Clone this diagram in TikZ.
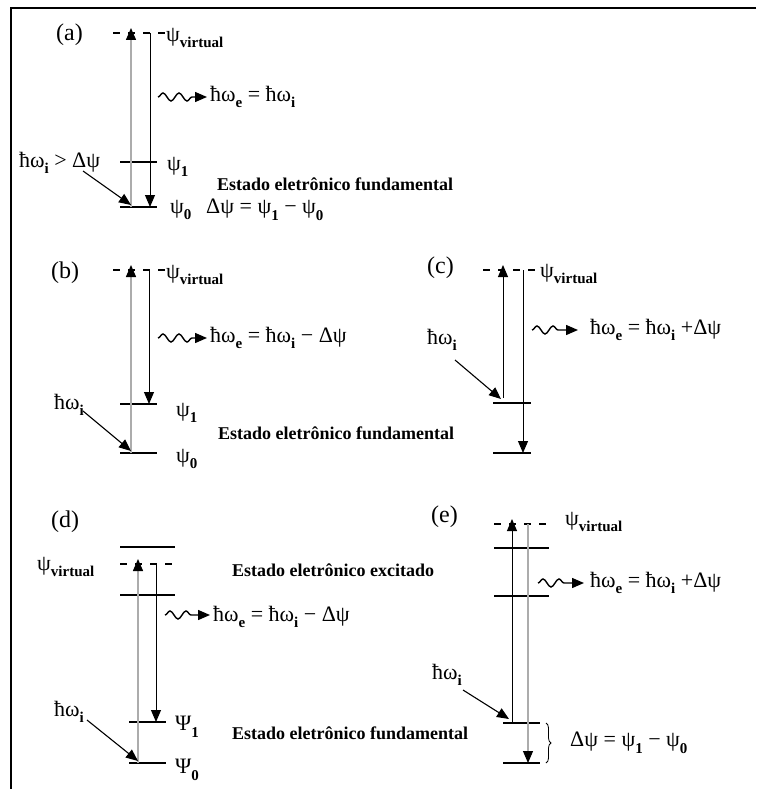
\documentclass[tikz,border=0pt]{standalone}
\usepackage{fontspec}
\setmainfont{Liberation Serif}
\usetikzlibrary{arrows.meta,decorations.pathmorphing,decorations.pathreplacing}
% bold lowered index used for state and photon labels
\newcommand{\lo}[1]{\raisebox{-0.3em}{\fontsize{15}{16}\selectfont\bfseries #1}}
\begin{document}
\begin{tikzpicture}[x=1pt,y=-1pt,
  txt/.style={anchor=west,inner sep=0pt,font=\fontsize{22}{24}\selectfont},
  tag/.style={anchor=west,inner sep=0pt,font=\fontsize{24}{26}\selectfont},
  lbl/.style={anchor=west,inner sep=0pt,font=\fontsize{18}{21}\selectfont\bfseries},
  level/.style={line width=2pt},
  vlevel/.style={line width=1.8pt,dash pattern=on 7pt off 8pt},
  tiphead/.style={-{Triangle[length=12pt,width=10pt,color=black]}},
  uparrow/.style={tiphead,draw=gray!65,line width=1.4pt},
  downarrow/.style={tiphead,line width=1pt},
  incarrow/.style={tiphead,line width=1.1pt},
  wavearrow/.style={tiphead,line width=1.4pt,decorate,
    decoration={snake,segment length=16pt,amplitude=4pt,post length=14pt}}
]
\useasboundingbox (0,0) rectangle (756,789);

% frame
\draw[line width=1.6pt] (756,8) -- (11,8) -- (11,789);

%---------------- (a) ----------------
\node[tag] (la) at (56,35) {(a)};
\draw[vlevel] (113,33) -- (167,33);
\coordinate (a0l) at (120,207); \coordinate (a0r) at (157,207);
\coordinate (a1l) at (120,162); \coordinate (a1r) at (157,162);
\draw[level] (a0l) -- (a0r);
\draw[level] (a1l) -- (a1r);
\coordinate (aub) at (131,207); \coordinate (aut) at (131,28);
\coordinate (adt) at (150,33);  \coordinate (adb) at (150,207);
\draw[uparrow] (aub) -- (aut);
\draw[downarrow] (adt) -- (adb);
\node[txt] (va) at (166,38) {ψ\lo{virtual}};
\coordinate (aws) at (158,97); \coordinate (awe) at (207,97);
\draw[wavearrow] (aws) -- (awe);
\node[txt] (ea) at (210,97) {ħω\lo{e} = ħω\lo{i}};
\node[txt] (ia) at (19,163) {ħω\lo{i} > Δψ};
\coordinate (ias) at (83,171); \coordinate (iae) at (131,205);
\draw[incarrow] (ias) -- (iae);
\node[txt] (p1a) at (167,167) {ψ\lo{1}};
\node[txt] (p0a) at (170,210) {ψ\lo{0}};
\node[txt] (da) at (206,210) {Δψ = ψ\lo{1} − ψ\lo{0}};
\node[lbl] (fa) at (217,184) {Estado eletrônico fundamental};

%---------------- (b) ----------------
\node[tag] (lb) at (51,273) {(b)};
\draw[vlevel] (113,270) -- (167,270);
\coordinate (b0l) at (120,453); \coordinate (b0r) at (157,453);
\coordinate (b1l) at (120,404); \coordinate (b1r) at (157,404);
\draw[level] (b0l) -- (b0r);
\draw[level] (b1l) -- (b1r);
\coordinate (bub) at (131,453); \coordinate (but) at (131,265);
\coordinate (bdt) at (149,270); \coordinate (bdb) at (149,404);
\draw[uparrow] (bub) -- (but);
\draw[downarrow] (bdt) -- (bdb);
\node[txt] (vb) at (166,275) {ψ\lo{virtual}};
\coordinate (bws) at (158,338); \coordinate (bwe) at (207,338);
\draw[wavearrow] (bws) -- (bwe);
\node[txt] (eb) at (210,338) {ħω\lo{e} = ħω\lo{i} − Δψ};
\node[txt] (ib) at (54,405) {ħω\lo{i}};
\coordinate (ibs) at (83,411); \coordinate (ibe) at (131,451);
\draw[incarrow] (ibs) -- (ibe);
\node[txt] (p1b) at (176,413) {ψ\lo{1}};
\node[txt] (p0b) at (176,459) {ψ\lo{0}};
\node[lbl] (fb) at (218,433) {Estado eletrônico fundamental};

%---------------- (c) ----------------
\node[tag] (lc) at (427,268) {(c)};
\draw[vlevel] (483,270) -- (540,270);
\coordinate (c1l) at (493,403); \coordinate (c1r) at (531,403);
\coordinate (c0l) at (493,453); \coordinate (c0r) at (531,453);
\draw[level] (c1l) -- (c1r);
\draw[level] (c0l) -- (c0r);
\coordinate (cub) at (503,398); \coordinate (cut) at (503,265);
\coordinate (cdt) at (523,270); \coordinate (cdb) at (523,453);
\draw[downarrow] (cub) -- (cut);
\draw[downarrow] (cdt) -- (cdb);
\node[txt] (vc) at (540,274) {ψ\lo{virtual}};
\coordinate (cws) at (532,330); \coordinate (cwe) at (578,330);
\draw[wavearrow] (cws) -- (cwe);
\node[txt] (ec) at (590,330) {ħω\lo{e} = ħω\lo{i} +Δψ};
\node[txt] (ic) at (427,340) {ħω\lo{i}};
\coordinate (ics) at (455,360); \coordinate (ice) at (501,399);
\draw[incarrow] (ics) -- (ice);

%---------------- (d) ----------------
\node[tag] (ld) at (51,522) {(d)};
\coordinate (dxl) at (120,547); \coordinate (dxr) at (175,547);
\coordinate (dyl) at (120,595); \coordinate (dyr) at (175,595);
\draw[level] (dxl) -- (dxr);
\draw[vlevel] (120,564) -- (175,564);
\draw[level] (dyl) -- (dyr);
\coordinate (d1l) at (129,722); \coordinate (d1r) at (166,722);
\coordinate (d0l) at (129,763); \coordinate (d0r) at (166,763);
\draw[level] (d1l) -- (d1r);
\draw[level] (d0l) -- (d0r);
\coordinate (dub) at (138,763); \coordinate (dut) at (138,559);
\coordinate (ddt) at (156,564); \coordinate (ddb) at (156,722);
\draw[uparrow] (dub) -- (dut);
\draw[downarrow] (ddt) -- (ddb);
\node[txt] (vd) at (37,567) {ψ\lo{virtual}};
\coordinate (dws) at (165,615); \coordinate (dwe) at (210,615);
\draw[wavearrow] (dws) -- (dwe);
\node[txt] (ed) at (213,617) {ħω\lo{e} = ħω\lo{i} − Δψ};
\node[lbl] (xd) at (232,570) {Estado eletrônico excitado};
\node[lbl] (fd) at (232,733) {Estado eletrônico fundamental};
\node[txt] (id) at (54,712) {ħω\lo{i}};
\coordinate (ids) at (87,720); \coordinate (ide) at (138,761);
\draw[incarrow] (ids) -- (ide);
\node[txt] (p1d) at (175,727) {Ψ\lo{1}};
\node[txt] (p0d) at (175,770) {Ψ\lo{0}};

%---------------- (e) ----------------
\node[tag] (le) at (431,517) {(e)};
\draw[vlevel] (494,524) -- (549,524);
\coordinate (exl) at (494,548); \coordinate (exr) at (549,548);
\coordinate (eyl) at (494,596); \coordinate (eyr) at (549,596);
\draw[level] (exl) -- (exr);
\draw[level] (eyl) -- (eyr);
\coordinate (e1l) at (503,723); \coordinate (e1r) at (540,723);
\coordinate (e0l) at (503,763); \coordinate (e0r) at (540,763);
\draw[level] (e1l) -- (e1r);
\draw[level] (e0l) -- (e0r);
\coordinate (eub) at (512,723); \coordinate (eut) at (512,519);
\coordinate (edt) at (528,524); \coordinate (edb) at (528,763);
\draw[downarrow] (eub) -- (eut);
\draw[uparrow,line width=1.1pt] (edt) -- (edb);
\node[txt] (ve) at (565,522) {ψ\lo{virtual}};
\coordinate (ews) at (538,583); \coordinate (ewe) at (584,583);
\draw[wavearrow] (ews) -- (ewe);
\node[txt] (ee) at (590,583) {ħω\lo{e} = ħω\lo{i} +Δψ};
\node[txt] (ie) at (432,675) {ħω\lo{i}};
\coordinate (ies) at (463,690); \coordinate (iee) at (509,719);
\draw[incarrow] (ies) -- (iee);
\coordinate (bt) at (546,723); \coordinate (bb) at (546,763);
\draw[line width=0.8pt,decorate,decoration={brace,amplitude=5pt}] (bt) -- (bb);
\node[txt] (de) at (570,743) {Δψ = ψ\lo{1} − ψ\lo{0}};

\end{tikzpicture}
\end{document}
